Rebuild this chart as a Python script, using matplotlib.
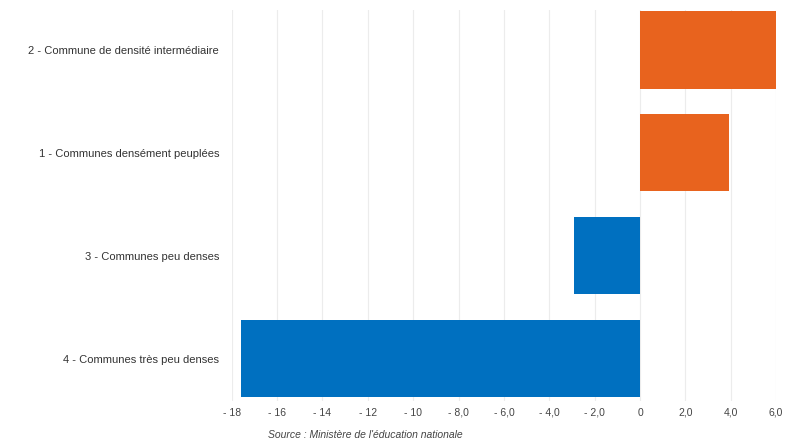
import matplotlib.pyplot as plt

categories = ['2 - Commune de densité intermédiaire',
              '1 - Communes densément peuplées',
              '3 - Communes peu denses',
              '4 - Communes très peu denses']
values = [6.0, 3.9, -2.9, -17.6]
tick_vals = [-18, -16, -14, -12, -10, -8, -6, -4, -2, 0, 2, 4, 6]
tick_labels = ['- 18', '- 16', '- 14', '- 12', '- 10', '- 8,0', '- 6,0',
               '- 4,0', '- 2,0', '0', '2,0', '4,0', '6,0']

plt.rcParams['font.family'] = ['Liberation Sans', 'DejaVu Sans']

fig = plt.figure(figsize=(7.88, 4.46), dpi=100)
ax = fig.add_axes([0.294, 0.101, 0.691, 0.877])

colors = ['#E8631E' if v > 0 else '#0070C0' for v in values]
y = range(len(categories))
ax.barh(y, values, height=0.75, color=colors, zorder=2)

ax.set_yticks(list(y))
ax.set_yticklabels(categories, fontsize=8, color='#333333')
ax.set_ylim(3.41, -0.39)
ax.set_xlim(-18, 6)
ax.set_xticks(tick_vals)
ax.set_xticklabels(tick_labels, fontsize=7.5, color='#444444')
ax.tick_params(length=0, pad=5)
ax.tick_params(axis='y', pad=9)
ax.grid(axis='x', color='#ececec', linewidth=0.8, zorder=0)
for s in ax.spines.values():
    s.set_visible(False)

fig.text(0.34, 0.018, "Source : Ministère de l'éducation nationale",
         fontsize=7.5, style='italic', color='#444444')

fig.savefig('out.png', dpi=100)
